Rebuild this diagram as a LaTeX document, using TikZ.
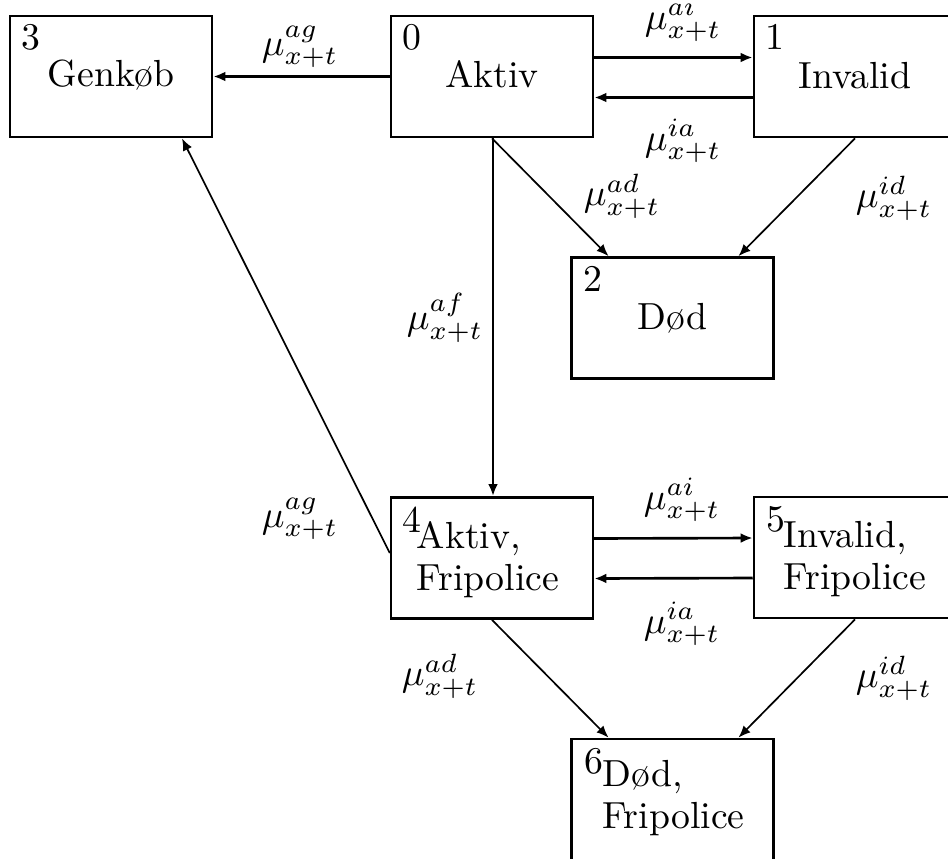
\documentclass[tikz,border=0pt]{standalone}
\usetikzlibrary{calc,arrows.meta}
\begin{document}
\begin{tikzpicture}[x=0.265pt,y=-0.265pt,
  box/.style={draw,line width=0.7pt,minimum width=53.5pt,minimum height=32.1pt,inner sep=0pt},
  num/.style={anchor=north west,inner sep=0pt},
  lab/.style={anchor=base,inner sep=0pt},
  labtwo/.style={anchor=north,inner sep=0pt,align=left,font=\fontsize{10}{11}\selectfont},
  rate/.style={inner sep=0pt},
  arr/.style={-{Latex[length=3.2pt,width=2.6pt]},line width=0.7pt},
  darr/.style={arr,line width=0.45pt}]
\clip (0,0) rectangle (948,858);
% boxes
\node[box] (b3) at (111,76.5) {};
\node[box] (b0) at (492,76.5) {};
\node[box] (b1) at (855,76.5) {};
\node[box] (b2) at (672.5,318) {};
\node[box] (b4) at (492,558) {};
\node[box] (b5) at (855,557.5) {};
\node[box] (b6) at (672.5,799.5) {};
% numbers
\node[num] (n3) at ($(b3.north west)+(12,9)$) {3};
\node[num] (n0) at ($(b0.north west)+(12,9)$) {0};
\node[num] (n1) at ($(b1.north west)+(12,9)$) {1};
\node[num] (n2) at ($(b2.north west)+(12,9)$) {2};
\node[num] (n4) at ($(b4.north west)+(12,10)$) {4};
\node[num] (n5) at ($(b5.north west)+(13,10)$) {5};
\node[num] (n6) at ($(b6.north west)+(13,10)$) {6};
% texts
\node[lab] (t3) at ($(b3.north)+(0,72)$) {Genkøb};
\node[lab] (t0) at ($(b0.north)+(0,73)$) {Aktiv};
\node[lab] (t1) at ($(b1.north)+(0,74)$) {Invalid};
\node[lab] (t2) at ($(b2.north)+(0,73)$) {Død};
\node[labtwo] (t4) at ($(b4.north)+(-4,25)$) {Aktiv,\\Fripolice};
\node[labtwo] (t5) at ($(b5.north)+(0,25)$) {Invalid,\\Fripolice};
\node[labtwo] (t6) at ($(b6.north)+(1,22)$) {Død,\\Fripolice};
% connector end points
\coordinate (e02) at ($(b2.north)+(-64,0)$);
\coordinate (e12) at ($(b2.north)+(66,0)$);
\coordinate (e46) at ($(b6.north)+(-64,0)$);
\coordinate (e56) at ($(b6.north)+(66,0)$);
\coordinate (e43) at ($(b3.south)+(71,0)$);
\coordinate (s43) at ($(b4.west)+(0,-5)$);
% connectors
\draw[arr] (b0.west) -- (b3.east);
\draw[arr] ($(b0.east)+(-2,-19)$) -- ($(b1.west)+(0,-19)$);
\draw[arr] ($(b1.west)+(0,21)$) -- ($(b0.east)+(0,21)$);
\draw[arr] ($(b4.east)+(-2,-19.5)$) -- ($(b5.west)+(0,-19.5)$);
\draw[arr] ($(b5.west)+(0,20.5)$) -- ($(b4.east)+(0,20.5)$);
\draw[arr] ($(b0.south)+(1,0)$) -- ($(b4.north)+(1,0)$);
\draw[darr] (b0.south) -- (e02);
\draw[darr] (b1.south) -- (e12);
\draw[darr] (b4.south) -- (e46);
\draw[darr] (b5.south) -- (e56);
\draw[darr] (s43) -- (e43);
% rates
\node[rate] (r03) at (300,47) {$\mu^{ag}_{x+t}$};
\node[rate] (r01) at (683,20) {$\mu^{ai}_{x+t}$};
\node[rate] (r10) at (683,141) {$\mu^{ia}_{x+t}$};
\node[rate] (r02) at (622,196) {$\mu^{ad}_{x+t}$};
\node[rate] (r12) at (894,198) {$\mu^{id}_{x+t}$};
\node[rate] (r04) at (445,318) {$\mu^{af}_{x+t}$};
\node[rate] (r43) at (300,519) {$\mu^{ag}_{x+t}$};
\node[rate] (r45) at (682,500) {$\mu^{ai}_{x+t}$};
\node[rate] (r54) at (682,624) {$\mu^{ia}_{x+t}$};
\node[rate] (r46) at (440,676) {$\mu^{ad}_{x+t}$};
\node[rate] (r56) at (894,678) {$\mu^{id}_{x+t}$};
\end{tikzpicture}
\end{document}
